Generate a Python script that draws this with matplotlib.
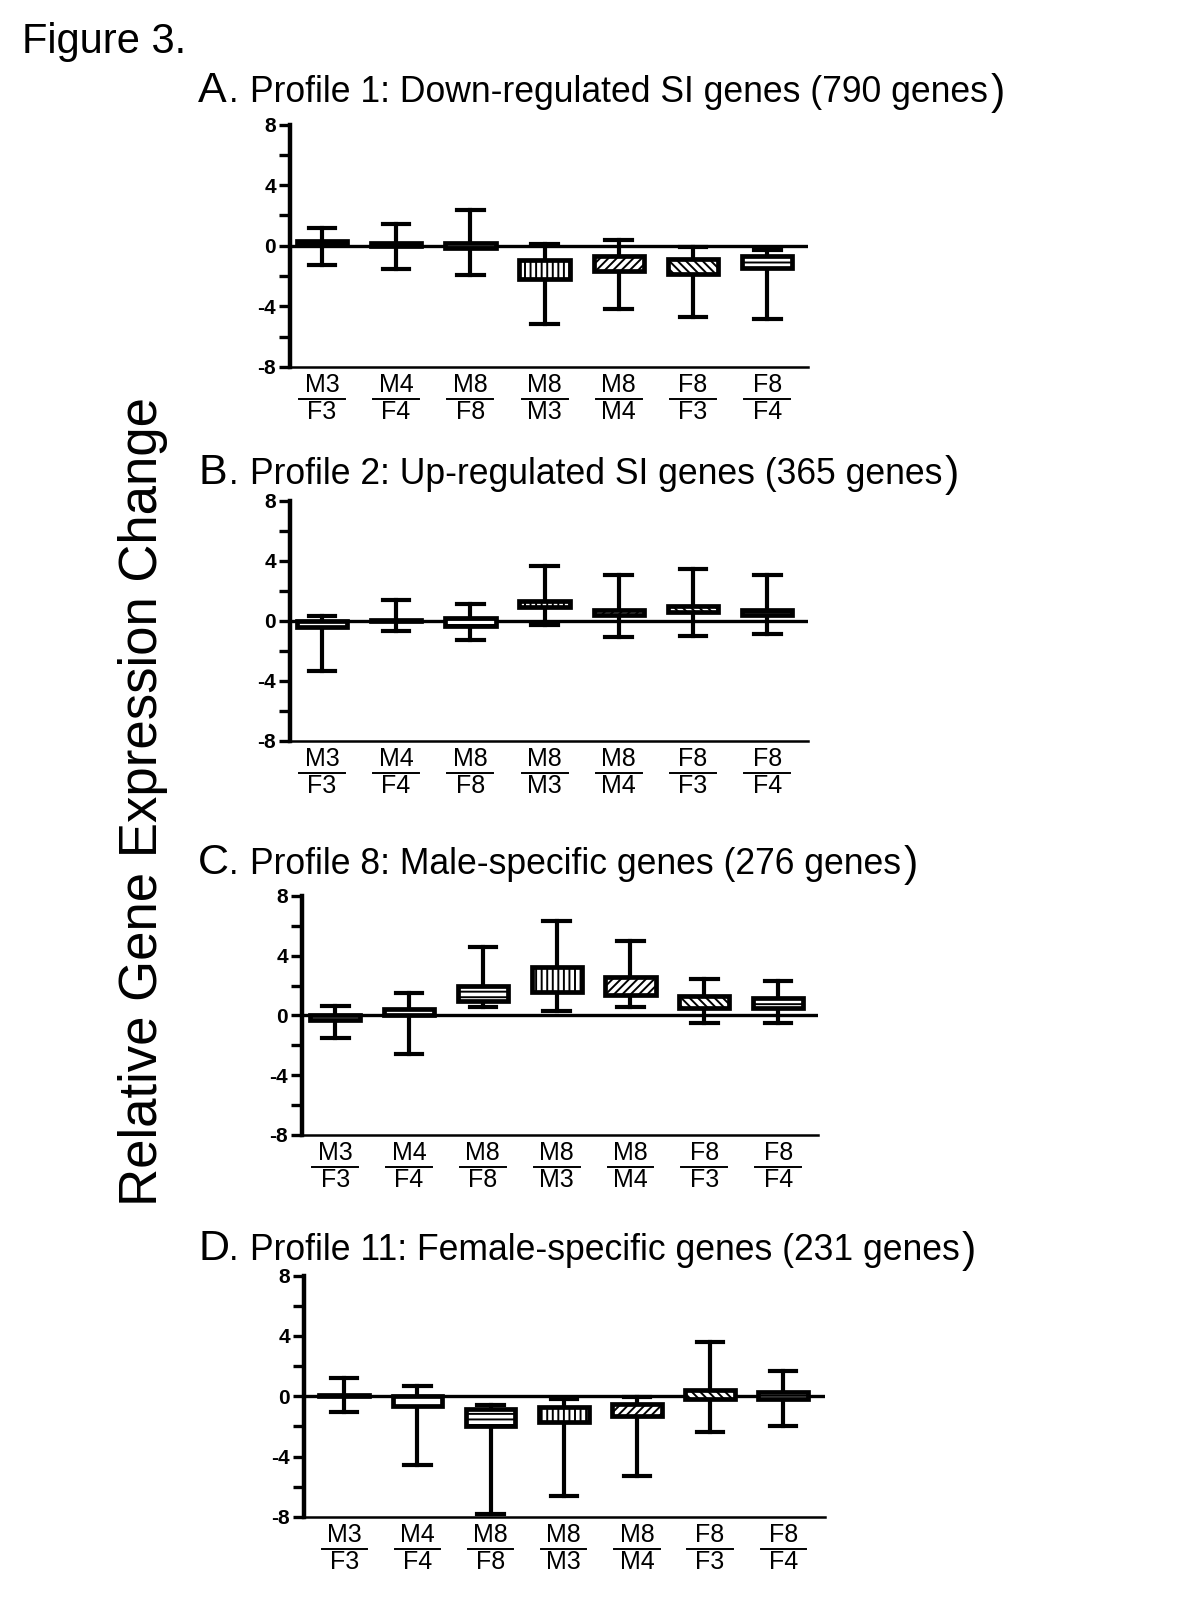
import numpy as np
import matplotlib
matplotlib.use('Agg')
import matplotlib.pyplot as plt
from matplotlib import transforms

plt.rcParams['font.family'] = ['Liberation Sans', 'DejaVu Sans']
plt.rcParams['hatch.linewidth'] = 1.4

numer = ['M3', 'M4', 'M8', 'M8', 'M8', 'F8', 'F8']
denom = ['F3', 'F4', 'F8', 'M3', 'M4', 'F3', 'F4']
hatches = ['', '', '---', '|||', '////', '\\\\\\\\', '--']
ytick_vals = [-8, -4, 0, 4, 8]
ytick_labels = ['-8', '-4', '0', '4', '8']

letters = ['A', 'B', 'C', 'D']
titles = ['Profile 1: Down-regulated SI genes (790 genes',
          'Profile 2: Up-regulated SI genes (365 genes',
          'Profile 8: Male-specific genes (276 genes',
          'Profile 11: Female-specific genes (231 genes']

# whisker low, q1, median, q3, whisker high
a_lo = [-1.26, -1.55, -1.95, -5.13, -4.2, -4.69, -4.8]
a_q1 = [0.05, 0.0, -0.15, -2.17, -1.68, -1.88, -1.46]
a_med = [0.15, 0.08, 0.0, -1.3, -1.0, -1.2, -0.95]
a_q3 = [0.3, 0.15, 0.15, -0.95, -0.7, -0.9, -0.69]
a_hi = [1.17, 1.44, 2.39, 0.1, 0.38, -0.1, -0.29]

b_lo = [-3.35, -0.65, -1.29, -0.27, -1.09, -0.98, -0.89]
b_q1 = [-0.38, 0.0, -0.3, 0.96, 0.4, 0.62, 0.4]
b_med = [-0.2, 0.03, -0.05, 1.18, 0.55, 0.8, 0.57]
b_q3 = [0.0, 0.08, 0.2, 1.36, 0.71, 1.0, 0.74]
b_hi = [0.33, 1.41, 1.14, 3.64, 3.04, 3.46, 3.04]

c_lo = [-1.51, -2.56, 0.6, 0.3, 0.6, -0.53, -0.51]
c_q1 = [-0.33, 0.05, 1.0, 1.54, 1.38, 0.53, 0.47]
c_med = [-0.15, 0.25, 1.5, 1.9, 1.9, 0.9, 0.8]
c_q3 = [0.0, 0.42, 2.0, 3.23, 2.56, 1.31, 1.14]
c_hi = [0.65, 1.49, 4.61, 6.35, 5.01, 2.43, 2.29]

d_lo = [-1.06, -4.58, -7.78, -6.63, -5.29, -2.36, -1.98]
d_q1 = [0.0, -0.66, -1.98, -1.7, -1.28, -0.18, -0.18]
d_med = [0.05, -0.4, -1.4, -1.15, -0.9, 0.2, 0.1]
d_q3 = [0.1, 0.0, -0.84, -0.68, -0.53, 0.44, 0.29]
d_hi = [1.21, 0.68, -0.57, -0.18, -0.04, 3.61, 1.67]

panels = [(a_lo, a_q1, a_med, a_q3, a_hi),
          (b_lo, b_q1, b_med, b_q3, b_hi),
          (c_lo, c_q1, c_med, c_q3, c_hi),
          (d_lo, d_q1, d_med, d_q3, d_hi)]

W, H = 1200, 1600
fig = plt.figure(figsize=(12, 16), dpi=100)

# axes boxes in pixels: left, right, top, bottom
ax_px = [(290, 808, 124.5, 367), (290, 808, 501, 741),
         (302, 818, 896, 1135), (304, 825, 1275.5, 1517)]
xlims = [(0.57, 7.55), (0.57, 7.55), (0.55, 7.54), (0.45, 7.57)]
title_base = [102, 484, 874, 1260]

pos = np.arange(1, 8)

def px_off(ax, dy):
    base = transforms.blended_transform_factory(ax.transData, ax.transAxes)
    return base + transforms.ScaledTranslation(0, -dy / 100, fig.dpi_scale_trans)

renderer = fig.canvas.get_renderer()

for k, (lo, q1, med, q3, hi) in enumerate(panels):
    l, r, t, b = ax_px[k]
    ax = fig.add_axes([l / W, 1 - b / H, (r - l) / W, (b - t) / H])
    ax.axhline(0, color='black', lw=2.4, zorder=1)

    stats = []
    for i in range(7):
        stats.append(dict(whislo=lo[i], q1=q1[i], med=med[i], q3=q3[i],
                          whishi=hi[i], fliers=[]))
    bp = ax.bxp(stats, positions=pos, widths=0.68, capwidths=0.36,
                patch_artist=True, showfliers=False,
                boxprops=dict(facecolor='white', edgecolor='black', linewidth=3.4),
                whiskerprops=dict(color='black', linewidth=3.0),
                capprops=dict(color='black', linewidth=3.0),
                medianprops=dict(color='black', linewidth=1.4))
    for patch, h in zip(bp['boxes'], hatches):
        patch.set_hatch(h)
        patch.set_zorder(3)

    ax.set_xlim(*xlims[k])
    ax.set_ylim(-8, 8)
    ax.set_xticks([])
    ax.set_yticks([-6, -2, 2, 6], minor=True)
    ax.tick_params(axis='y', which='both', direction='out', length=8, width=2.4,
                   pad=2, labelsize=15)
    ax.set_yticks(ytick_vals)
    ax.set_yticklabels(ytick_labels, fontweight='bold', fontsize=15)
    ax.spines['top'].set_visible(False)
    ax.spines['right'].set_visible(False)
    ax.spines['left'].set_linewidth(3.2)
    ax.spines['bottom'].set_linewidth(1.8)
    ax.patch.set_alpha(0)

    # fraction style category labels
    for i in range(7):
        ax.text(pos[i], 0, numer[i], transform=px_off(ax, 18), ha='center',
                va='center', fontsize=18)
        ax.plot([pos[i] - 0.31, pos[i] + 0.31], [0, 0], transform=px_off(ax, 32),
                color='black', lw=1.4, clip_on=False)
        ax.text(pos[i], 0, denom[i], transform=px_off(ax, 45), ha='center',
                va='center', fontsize=18)

    # panel title
    yb = 1 - title_base[k] / H
    fig.text(198 / W, yb, letters[k], fontsize=31, va='baseline')
    fig.text(229 / W, yb, '.', fontsize=25, va='baseline')
    tt = fig.text(250 / W, yb, titles[k], fontsize=25.6, va='baseline')
    bb = tt.get_window_extent(renderer=renderer)
    fig.text(bb.x1 / W + 0.002, yb - 0.001, ')', fontsize=31, va='baseline')

fig.text(22 / W, 1 - 53 / H, 'Figure 3.', fontsize=30, va='baseline')
fig.text(143 / W, 1 - 801 / H, 'Relative Gene Expression Change', fontsize=38,
         rotation=90, ha='center', va='center')

fig.savefig('out.png', dpi=100)
